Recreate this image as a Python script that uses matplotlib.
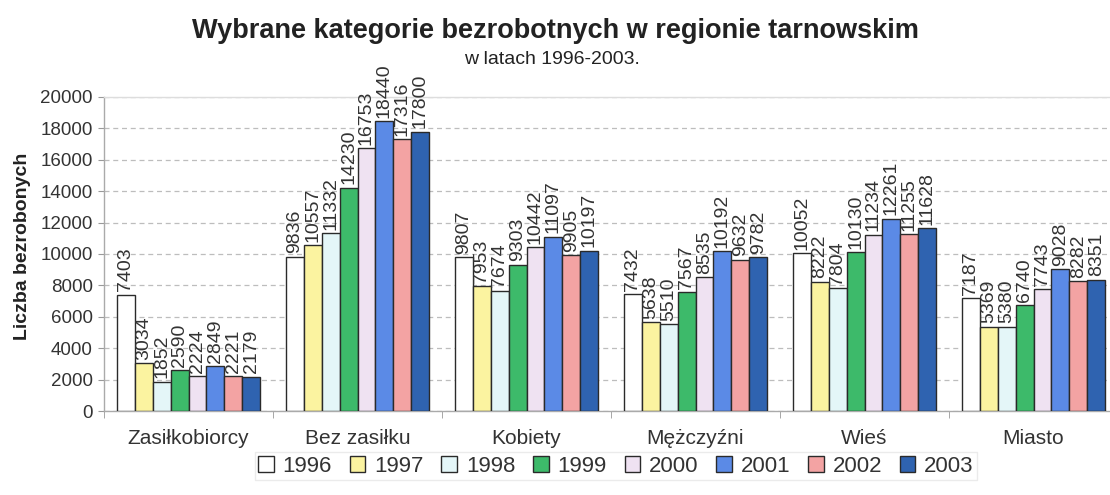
import matplotlib.pyplot as plt
import numpy as np

plt.rcParams['font.family'] = ['Liberation Sans', 'DejaVu Sans']

# data
categories = ['Zasiłkobiorcy', 'Bez zasiłku', 'Kobiety', 'Mężczyźni', 'Wieś', 'Miasto']
years = ['1996', '1997', '1998', '1999', '2000', '2001', '2002', '2003']
v1996 = [7403, 9836, 9807, 7432, 10052, 7187]
v1997 = [3034, 10557, 7953, 5638, 8222, 5369]
v1998 = [1852, 11332, 7674, 5510, 7804, 5380]
v1999 = [2590, 14230, 9303, 7567, 10130, 6740]
v2000 = [2224, 16753, 10442, 8535, 11234, 7743]
v2001 = [2849, 18440, 11097, 10192, 12261, 9028]
v2002 = [2221, 17316, 9905, 9632, 11255, 8282]
v2003 = [2179, 17800, 10197, 9782, 11628, 8351]
series = [v1996, v1997, v1998, v1999, v2000, v2001, v2002, v2003]

colors = ['#ffffff', '#fbf3a0', '#e4f6f8', '#3dba6a', '#efe2f2',
          '#5b8ae6', '#f3a3a3', '#2f63b0']

fig = plt.figure(figsize=(11.1, 4.95), dpi=100)
ax = fig.add_axes([104 / 1110, 84 / 495, 1014 / 1110, 314 / 495])

x = np.arange(len(categories))
w = 0.106
for j, (yr, vals) in enumerate(zip(years, series)):
    xs = x + (j - 3.5) * w
    ax.bar(xs, vals, width=w, color=colors[j], edgecolor='#2a2a2a',
           linewidth=1.0, label=yr, zorder=3)
    for xi, v in zip(xs, vals):
        ax.text(xi, v + 220, str(v), rotation=90, ha='center', va='bottom',
                fontsize=14, color='#333333', zorder=4)

ax.set_xlim(-0.5, len(categories) - 0.5)
ax.set_ylim(0, 20000)
ax.set_yticks(np.arange(0, 20001, 2000))
ax.yaxis.grid(True, color='#bdbdbd', linestyle=(0, (4, 3)), linewidth=0.9, zorder=0)
ax.set_axisbelow(True)

ax.set_xticks(x)
ax.set_xticklabels(categories, fontsize=15, color='#333333')
ax.set_xticks(np.arange(-0.5, len(categories)), minor=True)
ax.tick_params(axis='x', which='major', length=0, pad=13)
ax.tick_params(axis='x', which='minor', length=5, color='#999999')
ax.tick_params(axis='y', labelsize=13.5, labelcolor='#333333', length=4,
               color='#999999', pad=4)

for s in ax.spines.values():
    s.set_color('#aaaaaa')
    s.set_linewidth(1.0)
ax.spines['top'].set_color('#dddddd')

ax.set_ylabel('Liczba bezrobonych', fontsize=14, fontweight='bold', color='#222222')
ax.yaxis.set_label_coords(-0.072, 0.525)

fig.text(0.5, 0.937, 'Wybrane kategorie bezrobotnych w regionie tarnowskim',
         ha='center', va='center', fontsize=19.5, fontweight='bold', color='#222222')
fig.text(0.497, 0.88, 'w latach 1996-2003.', ha='center', va='center',
         fontsize=14, color='#222222')

leg = fig.legend(loc='center', bbox_to_anchor=(0.555, 0.058), ncol=8,
                 fontsize=16, frameon=True, handlelength=0.7, handleheight=0.7,
                 handletextpad=0.4, columnspacing=0.8, borderpad=0.15,
                 fancybox=False, edgecolor='#e6e6e6')
for t in leg.get_texts():
    t.set_color('#333333')

fig.savefig('out.png', dpi=100)
